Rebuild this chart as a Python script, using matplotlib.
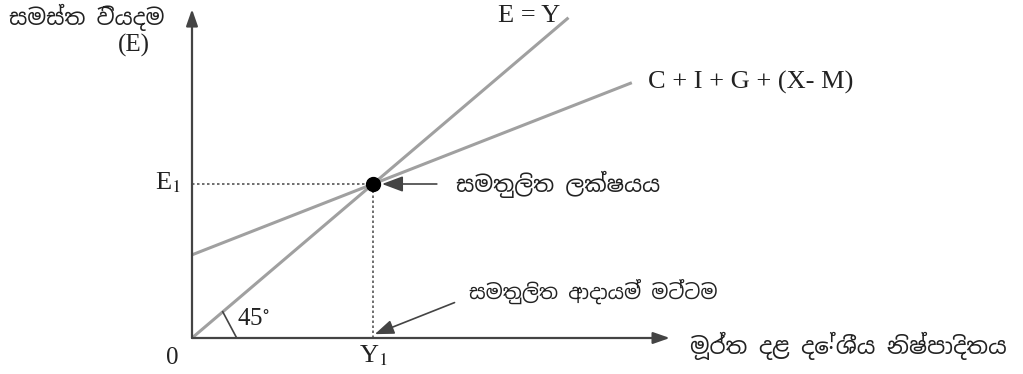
import numpy as np
import matplotlib.pyplot as plt

plt.rcParams['font.family'] = ['Liberation Serif', 'Noto Sans Sinhala', 'DejaVu Sans']
plt.rcParams['mathtext.fontset'] = 'stix'

# model: E = Y  and  AE = a + b*Y
y_income = np.array([0.0, 20.8])
ae_intercept = 5.4
ae_slope = 0.46
ae_income = np.array([0.0, 24.3])
y1 = 10.0
e1 = ae_intercept + ae_slope * y1

line_labels = ['E = Y', 'C + I + G + (X- M)']
y_label = 'සමස්ත වියදම'
x_label = 'මූර්ත දළ දේශීය නිෂ්පාදිතය'
point_label = 'සමතුලිත ලක්ෂයය'
income_label = 'සමතුලිත ආදායම් මට්ටම'

W, H = 1023, 374
fig = plt.figure(figsize=(W / 100, H / 100), dpi=100)
x0, y0 = 192, 338
sx, sy = 18.1, 15.4
ax = fig.add_axes([x0 / W, (H - y0) / H, (W - x0) / W, y0 / H])
ax.set_xlim(0, (W - x0) / sx)
ax.set_ylim(0, y0 / sy)
ax.axis('off')

axc = '#444444'
linec = '#a0a0a0'
txtc = '#222222'
sin = ['Noto Sans Sinhala', 'DejaVu Sans']

# axes with arrows
ax.annotate('', xy=(26.4, 0), xytext=(0, 0),
            arrowprops=dict(arrowstyle='-|>,head_length=1.0,head_width=0.35', color=axc, lw=1.6, shrinkA=0, shrinkB=0),
            annotation_clip=False)
ax.annotate('', xy=(0, 21.35), xytext=(0, 0),
            arrowprops=dict(arrowstyle='-|>,head_length=1.0,head_width=0.35', color=axc, lw=1.6, shrinkA=0, shrinkB=0),
            annotation_clip=False)

# lines
ax.plot(y_income, y_income, color=linec, lw=2.2, solid_capstyle='butt')
ax.plot(ae_income, ae_intercept + ae_slope * ae_income, color=linec, lw=2.2, solid_capstyle='butt')

# guides
ax.plot([0, y1], [e1, e1], color='#555555', lw=1.2, ls=(0, (1.5, 1.5)))
ax.plot([y1, y1], [0, e1], color='#555555', lw=1.2, ls=(0, (1.5, 1.5)))

# equilibrium point
ax.plot([y1], [e1], 'o', color='black', ms=10)

# 45 degree mark
ax.plot([2.47, 1.7], [0, 1.7], color=axc, lw=1.2)
ax.text(2.5, 0.5, '45$^{\\circ}$', fontsize=18, ha='left', va='bottom', color=txtc)

# labels
ax.text(16.9, 20.9, line_labels[0], fontsize=19, color=txtc, ha='left', va='center', clip_on=False)
ax.text(ae_income[-1] + 0.9, ae_intercept + ae_slope * ae_income[-1], line_labels[1],
        fontsize=19, color=txtc, ha='left', va='center')
ax.text(-0.6, e1 + 0.1, 'E$_1$', fontsize=19, color=txtc, ha='right', va='center')
ax.text(y1, -0.35, 'Y$_1$', fontsize=19, color=txtc, ha='center', va='top', clip_on=False)
ax.text(-1.1, -0.6, '0', fontsize=18, color=txtc, ha='center', va='top', clip_on=False)
ax.text(-2.3, 19.0, '(E)', fontsize=18, color=txtc, ha='right', va='center', clip_on=False)
ax.text(-1.5, 20.8, y_label, fontsize=16, color=txtc, ha='right', va='center', family=sin, clip_on=False)
ax.text(27.5, -0.5, x_label, fontsize=16.5, color=txtc, ha='left', va='center', family=sin, clip_on=False)

ax.annotate(point_label, xy=(y1 + 0.5, e1), xytext=(14.6, e1),
            fontsize=16, color=txtc, va='center', ha='left', family=sin,
            arrowprops=dict(arrowstyle='-|>,head_length=0.8,head_width=0.3', color=axc, lw=1.2,
                            relpos=(0, 0.5), shrinkA=12, shrinkB=0))
ax.annotate(income_label, xy=(y1 + 0.1, 0.25), xytext=(15.3, 3.0),
            fontsize=14.5, color=txtc, va='center', ha='left', family=sin,
            arrowprops=dict(arrowstyle='-|>,head_length=0.8,head_width=0.3', color=axc, lw=1.2,
                            relpos=(0, 0.3), shrinkA=9, shrinkB=0))

fig.savefig('out.png', dpi=100)
